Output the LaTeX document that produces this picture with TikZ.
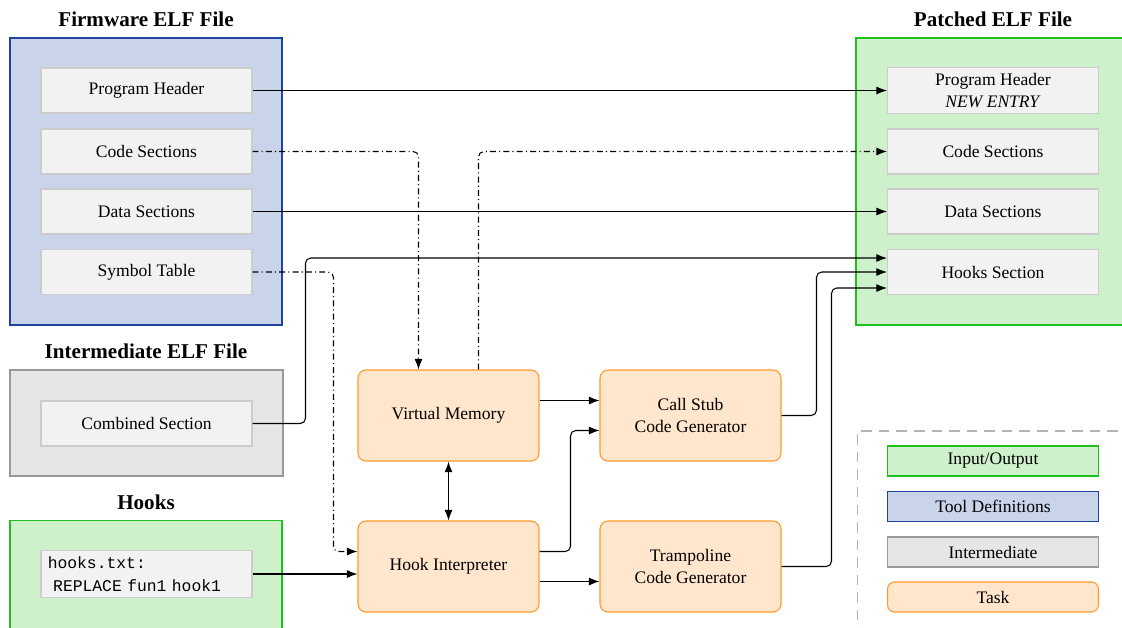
\documentclass[tikz,border=0pt]{standalone}
\usepackage{fontspec}
\setmainfont{Liberation Serif}
\setmonofont{Liberation Mono}
\usetikzlibrary{arrows.meta,calc}
\definecolor{bluefill}{HTML}{C9D4EA}
\definecolor{bluedraw}{HTML}{1F44A0}
\definecolor{greenfill}{HTML}{CEF1CC}
\definecolor{greendraw}{HTML}{1EC01E}
\definecolor{grayfill}{HTML}{E6E6E6}
\definecolor{graydraw}{HTML}{999999}
\definecolor{innerfill}{HTML}{F2F2F2}
\definecolor{innerdraw}{HTML}{CCCCCC}
\definecolor{orangefill}{HTML}{FFE6CC}
\definecolor{orangedraw}{HTML}{FF9A2A}
\definecolor{legdraw}{HTML}{B3B3B3}
\tikzset{
  outerbox/.style={draw, line width=1.1pt, minimum width=#1},
  innerbox/.style={draw=innerdraw, fill=innerfill, line width=0.6pt, minimum width=4.22cm, minimum height=0.9cm, font=\fontsize{10}{12.5}\selectfont, align=center},
  taskbox/.style={draw=orangedraw, fill=orangefill, line width=0.6pt, rounded corners=4.5pt, minimum width=3.62cm, minimum height=1.82cm, font=\fontsize{10}{13}\selectfont, align=center},
  legbox/.style={line width=0.6pt, minimum width=4.22cm, minimum height=0.6cm, font=\fontsize{10}{12}\selectfont},
  titletext/.style={font=\fontsize{12}{14}\selectfont\bfseries},
  arr/.style={-{Latex[length=6pt,width=4.5pt]}, line width=0.6pt, rounded corners=3pt},
  dd/.style={dash pattern=on 3.4pt off 1.8pt on 0.6pt off 1.8pt},
}
\begin{document}
\begin{tikzpicture}[x=0.02cm, y=-0.02cm]
\useasboundingbox (0,0) rectangle (1122,627);
\clip (0,0) rectangle (1122,627);

% outer containers
\node[outerbox=5.44cm, draw=bluedraw, fill=bluefill, minimum height=5.74cm] (fw) at (146,181.5) {};
\node[titletext] (fwt) at (146,19) {Firmware ELF File};
\node[outerbox=5.46cm, draw=graydraw, fill=grayfill, minimum height=2.12cm] (im) at (146.5,423) {};
\node[titletext] (imt) at (146,351) {Intermediate ELF File};
\node[outerbox=5.44cm, draw=greendraw, fill=greenfill, minimum height=2.5cm] (hb) at (146,583) {};
\node[titletext] (hbt) at (146,502) {Hooks};
\node[outerbox=5.5cm, draw=greendraw, fill=greenfill, minimum height=5.74cm] (pf) at (993.5,181.5) {};
\node[titletext] (pft) at (993,19) {Patched ELF File};
\node[draw=legdraw, dash pattern=on 6pt off 4pt, line width=0.9pt, minimum width=5.5cm, minimum height=4.4cm] (leg) at (995,541) {};

% firmware sections
\node[innerbox] (fph) at (146.5,90.5) {Program Header};
\node[innerbox] (fcs) at (146.5,151.5) {Code Sections};
\node[innerbox] (fds) at (146.5,211.5) {Data Sections};
\node[innerbox] (fst) at (146.5,272) {Symbol Table};

% intermediate
\node[innerbox] (comb) at (146.5,423.5) {Combined Section};

% hooks
\node[innerbox, align=left, text width=3.95cm, font=\fontsize{9.3}{13}\selectfont\ttfamily] (hk) at (146.5,574) {hooks.txt:\\\ REPLACE fun1 hook1};

% patched sections
\node[innerbox] (pph) at (993,90.5) {Program Header\\\textit{NEW ENTRY}};
\node[innerbox] (pcs) at (993,151.5) {Code Sections};
\node[innerbox] (pds) at (993,211.5) {Data Sections};
\node[innerbox] (phs) at (993,272) {Hooks Section};

% tasks
\node[taskbox] (vm) at (448.5,415.5) {Virtual Memory};
\node[taskbox] (hi) at (448.5,566.5) {Hook Interpreter};
\node[taskbox] (cs) at (690.5,415.5) {Call Stub\\Code Generator};
\node[taskbox] (tr) at (690.5,566.5) {Trampoline\\Code Generator};

% legend
\node[legbox, draw=greendraw, fill=greenfill] (l1) at (993,461) {Input/Output};
\node[legbox, draw=bluedraw, fill=bluefill] (l2) at (993,506.5) {Tool Definitions};
\node[legbox, draw=graydraw, fill=grayfill] (l3) at (993,552) {Intermediate};
\node[legbox, draw=orangedraw, fill=orangefill, rounded corners=4pt] (l4) at (993,597) {Task};

% connectors
\draw[arr] (fph.east) -- (pph.west);
\draw[arr] (fds.east) -- (pds.west);
\draw[arr, dd] (fcs.east) -| ($(vm.north)+(-30,0)$);
\draw[arr, dd] ($(vm.north)+(30,0)$) |- (pcs.west);
\draw[arr, dd] (fst.east) -| ($(hi.west)+(-24,-15)$) -- ($(hi.west)+(0,-15)$);
\draw[arr] (comb.east) -- ++(53,0) |- ($(phs.west)+(0,-14)$);
\draw[arr] (cs.east) -- ++(35,0) |- (phs.west);
\draw[arr] (tr.east) -- ++(50,0) |- ($(phs.west)+(0,16)$);
\draw[arr] ($(vm.east)+(0,-15)$) -- ($(cs.west)+(0,-15)$);
\draw[arr] ($(hi.east)+(0,-15)$) -- ++(31,0) |- ($(cs.west)+(0,15)$);
\draw[arr] ($(hi.east)+(0,15)$) -- ($(tr.west)+(0,15)$);
\draw[arr] (hk.east) -- (hk.east -| hi.west);
\draw[arr, {Latex[length=6pt,width=4.5pt]}-{Latex[length=6pt,width=4.5pt]}] (vm.south) -- (hi.north);
\end{tikzpicture}
\end{document}
